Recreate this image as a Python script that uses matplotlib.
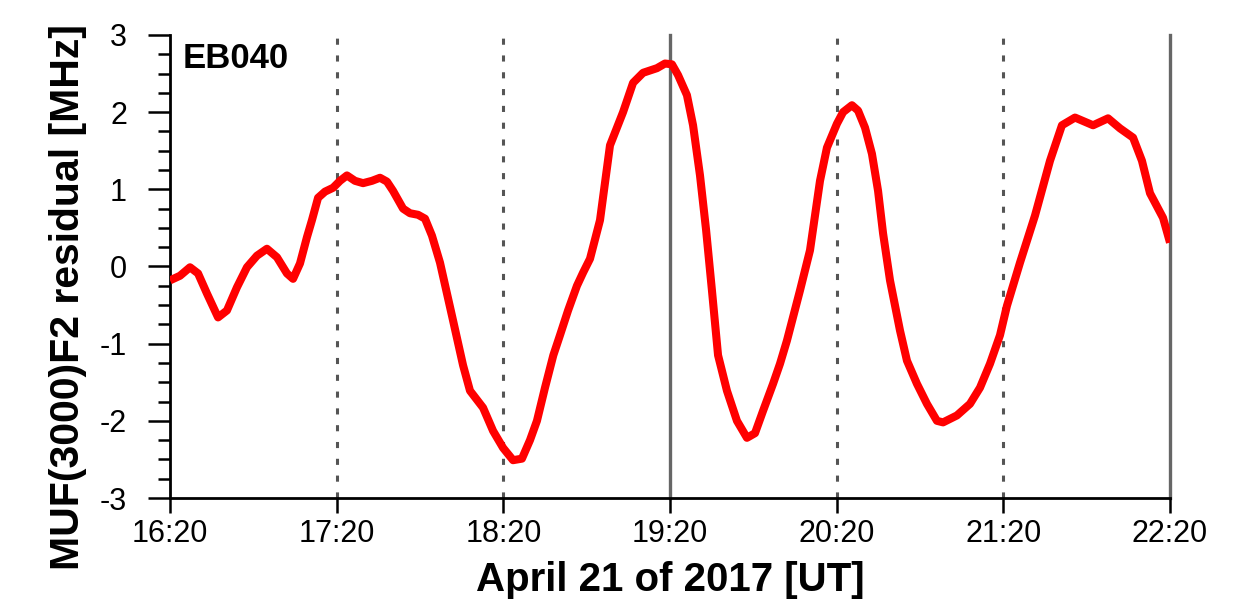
import matplotlib
matplotlib.use("Agg")
import matplotlib.pyplot as plt
from matplotlib.ticker import FixedLocator

plt.rcParams['font.family'] = ['Liberation Sans', 'DejaVu Sans']

# Minutes after 16:20 UT and MUF(3000)F2 residual [MHz]
minutes = [0.0, 3.6, 7.2, 10.1, 13.3, 17.3, 20.5, 24.1, 27.7, 31.3, 34.9, 38.5,
           42.1, 44.3, 46.8, 49.3, 51.1, 53.3, 55.8, 58.7, 61.2, 63.7, 66.6,
           69.5, 72.7, 75.6, 78.1, 80.3, 83.9, 86.4, 89.3, 91.8, 94.3, 97.2,
           101.9, 105.5, 108.0, 112.7, 116.3, 119.9, 123.5, 126.7, 129.6, 132.1,
           135.0, 138.0, 140.4, 143.3, 146.5, 148.7, 151.2, 154.8, 158.4, 163.1,
           166.7, 170.3, 175.3, 178.2, 180.7, 182.9, 186.1, 188.3, 190.8, 193.0,
           195.1, 197.3, 200.5, 204.1, 207.7, 210.6, 213.5, 217.1, 219.6, 222.1,
           226.8, 230.4, 234.0, 236.5, 240.1, 242.3, 245.5, 247.7, 250.2, 252.7,
           254.9, 256.7, 259.2, 262.8, 265.3, 268.9, 272.5, 276.1, 278.3, 283.3,
           288.0, 291.6, 295.2, 298.8, 301.3, 306.0, 311.4, 316.8, 321.1, 325.8,
           332.3, 337.7, 342.0, 346.7, 349.9, 352.8, 357.5, 360.0]
residual = [-0.18, -0.12, -0.01, -0.09, -0.35, -0.66, -0.57, -0.27, -0.01, 0.14,
            0.23, 0.12, -0.09, -0.16, 0.04, 0.38, 0.60, 0.89, 0.97, 1.02, 1.11,
            1.18, 1.11, 1.08, 1.11, 1.15, 1.10, 0.98, 0.75, 0.69, 0.67, 0.62,
            0.40, 0.05, -0.70, -1.28, -1.61, -1.83, -2.13, -2.35, -2.51, -2.49,
            -2.25, -2.00, -1.57, -1.15, -0.89, -0.57, -0.25, -0.08, 0.10, 0.60,
            1.57, 2.00, 2.38, 2.51, 2.57, 2.63, 2.62, 2.48, 2.22, 1.83, 1.18,
            0.47, -0.31, -1.15, -1.61, -2.00, -2.22, -2.16, -1.87, -1.52, -1.26,
            -0.96, -0.31, 0.21, 1.11, 1.54, 1.85, 2.00, 2.09, 2.02, 1.80, 1.46,
            0.98, 0.43, -0.18, -0.83, -1.22, -1.52, -1.78, -2.00, -2.02, -1.93,
            -1.78, -1.57, -1.26, -0.89, -0.51, 0.05, 0.66, 1.37, 1.83, 1.93,
            1.83, 1.92, 1.79, 1.67, 1.37, 0.95, 0.63, 0.31]

tick_minutes = [0, 60, 120, 180, 240, 300, 360]
tick_labels = ["16:20", "17:20", "18:20", "19:20", "20:20", "21:20", "22:20"]
y_major = [-3, -2, -1, 0, 1, 2, 3]
y_minor = [v / 4 for v in range(-12, 13)]
dotted_minutes = [60, 120, 240, 300]
solid_minutes = [180, 360]
station = "EB040"

fig = plt.figure(figsize=(12.5, 5.99), dpi=100)
ax = fig.add_axes([0.136, 0.1686, 0.80, 0.773])

for m in dotted_minutes:
    ax.axvline(m, color="#555555", lw=2.2, linestyle=(0, (2, 3.5)), zorder=1)
for m in solid_minutes:
    ax.axvline(m, color="#666666", lw=2.4, zorder=1, clip_on=False)

ax.plot(minutes, residual, color="#ff0000", lw=5.8, solid_joinstyle="round",
        solid_capstyle="butt", zorder=3)

ax.set_xlim(0, 360)
ax.set_ylim(-3, 3)
ax.xaxis.set_major_locator(FixedLocator(tick_minutes))
ax.set_xticklabels(tick_labels)
ax.yaxis.set_major_locator(FixedLocator(y_major))
ax.yaxis.set_minor_locator(FixedLocator(y_minor))
ax.set_yticklabels([str(v) for v in y_major])

for side in ("top", "right"):
    ax.spines[side].set_visible(False)
for side in ("left", "bottom"):
    ax.spines[side].set_linewidth(2.0)
    ax.spines[side].set_color("black")

ax.tick_params(axis="y", which="major", direction="out", length=16, width=1.8,
               pad=15, labelsize=22)
ax.tick_params(axis="y", which="minor", direction="out", length=9, width=1.8)
ax.tick_params(axis="x", which="major", direction="out", length=11, width=1.8,
               pad=4, labelsize=22)

ax.set_ylabel("MUF(3000)F2 residual [MHz]", fontsize=29.5, fontweight="bold")
ax.yaxis.set_label_coords(-0.083, 0.435)
ax.set_xlabel("April 21 of 2017 [UT]", fontsize=29, fontweight="bold",
              labelpad=9)

ax.text(0.013, 0.985, station, transform=ax.transAxes, fontsize=25,
        fontweight="bold", va="top", ha="left")

fig.savefig("out.png", dpi=100)
